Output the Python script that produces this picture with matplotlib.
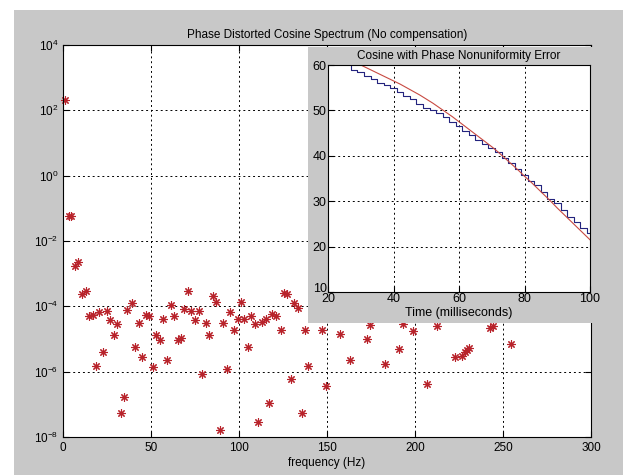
import matplotlib
matplotlib.use('Agg')
import matplotlib.pyplot as plt
from matplotlib.patches import Rectangle
from matplotlib.ticker import FixedLocator, NullLocator
from matplotlib.transforms import ScaledTranslation

plt.rcParams['font.family'] = 'Liberation Sans'
plt.rcParams['mathtext.fontset'] = 'custom'
plt.rcParams['mathtext.rm'] = 'Liberation Sans'

# spectrum samples (frequency in Hz, magnitude)
freq = [1, 3.2, 4.8, 6.9, 8.8, 10.9, 13, 14.9, 16.8, 19, 20.6, 22.9, 24.8, 26.7, 29,
        30.9, 33, 34.7, 36.6, 39, 40.8, 43, 45, 47, 48.8, 50.9, 52.6, 54.9, 56.6,
        58.9, 61.3, 63, 65.3, 67, 69, 71.2, 73, 75.2, 77.1, 79, 81.3, 83.2, 85,
        87.2, 89, 91, 93, 95, 97.1, 99.2, 101, 103, 105, 107, 109.1, 111, 113.3,
        115.2, 117.3, 119, 121.3, 123.6, 125.5, 127.4, 129.5, 131.4, 133.7, 135.6,
        137.3, 139.2, 147.2, 149.2, 157.2, 162.8, 172.6, 174.5, 183.2, 190.9, 193,
        199, 206.6, 212.6, 222.6, 226.8, 228.3, 229.6, 230.8, 242.8, 244.3, 254.7]
log_mag = [2.32, -1.22, -1.22, -2.77, -2.64, -3.63, -3.53, -4.31, -4.27, -5.83, -4.16,
           -5.39, -4.14, -4.42, -4.89, -4.55, -7.27, -6.78, -4.11, -3.89, -5.24, -4.50,
           -5.55, -4.27, -4.31, -5.86, -4.89, -5.03, -4.40, -5.63, -3.97, -4.31, -5.03,
           -4.96, -4.07, -3.53, -4.14, -4.42, -4.14, -6.08, -4.51, -4.89, -3.68, -3.86,
           -7.79, -4.51, -5.91, -4.16, -4.72, -4.38, -3.86, -4.38, -5.24, -4.31, -4.55,
           -7.54, -4.48, -4.40, -6.96, -4.22, -4.31, -4.72, -3.58, -3.63, -6.21, -3.89,
           -4.06, -7.28, -4.72, -5.83, -4.73, -6.44, -4.86, -5.64, -5.0, -4.58, -5.77,
           -5.31, -4.55, -4.76, -6.37, -4.60, -5.55, -5.52, -5.39, -5.34, -5.29, -4.65,
           -4.60, -5.14]
mag = [10 ** v for v in log_mag]

# inset: time in ms
t_ms = [20, 22, 24, 26, 28, 30, 32, 34, 36, 38, 40, 42, 44, 46, 48, 50, 52, 54, 56, 58,
        60, 62, 64, 66, 68, 70, 72, 74, 76, 78, 80, 82, 84, 86, 88, 90, 92, 94, 96, 98, 100]
ideal = [63.5, 62.9, 62.3, 61.6, 60.8, 60.0, 59.3, 58.6, 57.9, 57.2, 56.5, 55.8, 55.0,
         54.2, 53.4, 52.5, 51.6, 50.6, 49.6, 48.6, 47.5, 46.4, 45.3, 44.2, 43.1, 42.0,
         40.8, 39.5, 38.2, 36.9, 35.5, 34.2, 32.8, 31.4, 30.0, 28.5, 27.1, 25.7, 24.3,
         22.9, 21.5]
distorted = [61.5, 61.0, 60.6, 60.2, 59.0, 58.5, 57.5, 57.0, 56.0, 55.5, 55.0, 54.0, 53.2,
             52.5, 51.5, 50.5, 50.0, 49.5, 48.5, 47.5, 46.5, 45.5, 44.5, 43.5, 42.5, 41.8,
             40.8, 39.5, 38.5, 37.0, 35.8, 34.5, 33.5, 32.0, 30.5, 29.5, 28.0, 26.5, 25.5,
             24.0, 23.0]

W, H = 623, 475
fig = plt.figure(figsize=(W / 100, H / 100), dpi=100, facecolor='white')
gray = '#c8c8c8'
fig.patches.append(Rectangle((14 / W, 0), 1, 1 - 10 / H, transform=fig.transFigure,
                             facecolor=gray, edgecolor='none', zorder=-10))

def fx(px):
    return px / W

def fy(py):
    return 1 - py / H

# main axes
ax = fig.add_axes([fx(63), fy(437), fx(591) - fx(63), fy(45) - fy(437)])
ax.set_facecolor('white')
ax.plot(freq, mag, linestyle='none', marker=(8, 2, 0), color='#b8232b',
        markersize=6, markeredgewidth=0.8, clip_on=False)
ax.set_yscale('log')
ax.set_xlim(0, 300)
ax.set_ylim(1e-8, 1e4)
ax.xaxis.set_major_locator(FixedLocator([0, 50, 100, 150, 200, 250, 300]))
ax.yaxis.set_major_locator(FixedLocator([1e-8, 1e-6, 1e-4, 1e-2, 1e0, 1e2, 1e4]))
ax.yaxis.set_minor_locator(NullLocator())
ax.set_yticklabels([r'$\mathregular{10^{%d}}$' % e for e in [-8, -6, -4, -2, 0, 2, 4]])
ax.grid(True, which='major', color='black', linestyle=(0, (2, 3)), linewidth=0.7)
ax.tick_params(direction='in', length=4, labelsize=8.5, top=True, right=True)
ax.set_title('Phase Distorted Cosine Spectrum (No compensation)', fontsize=8.5, pad=5)
ax.set_xlabel('frequency (Hz)', fontsize=8.5, labelpad=2)
for s in ax.spines.values():
    s.set_linewidth(0.8)

# gray panel behind inset
panel = fig.add_axes([fx(308), fy(323), fx(600) - fx(308), fy(47) - fy(323)])
panel.set_facecolor(gray)
panel.set_xticks([])
panel.set_yticks([])
for s in panel.spines.values():
    s.set_visible(False)
panel.set_zorder(5)

# inset axes
ins = fig.add_axes([fx(328), fy(292), fx(590) - fx(328), fy(65) - fy(292)])
ins.set_zorder(6)
ins.set_facecolor('white')
ins.plot(t_ms, distorted, color='#23237e', linewidth=0.8, drawstyle='steps-mid')
ins.plot(t_ms, ideal, color='#c84a42', linewidth=0.8)
ins.set_xlim(20, 100)
ins.set_ylim(10, 60)
ins.set_xticks([20, 40, 60, 80, 100])
ins.set_yticks([10, 20, 30, 40, 50, 60])
ins.grid(True, color='black', linestyle=(0, (2, 3)), linewidth=0.7)
ins.tick_params(direction='in', length=4, labelsize=9, pad=1)
ins.set_title('Cosine with Phase Nonuniformity Error', fontsize=8.5, pad=4)
ins.set_xlabel('Time (milliseconds)', fontsize=9, labelpad=1)

# nudge the lowest y label up so it does not collide with the first x label
fig.canvas.draw()
lab10 = ins.get_yticklabels()[0]
lab10.set_transform(lab10.get_transform() + ScaledTranslation(0, 4 / 100, fig.dpi_scale_trans))

fig.savefig('out.png', dpi=100, facecolor=fig.get_facecolor())
